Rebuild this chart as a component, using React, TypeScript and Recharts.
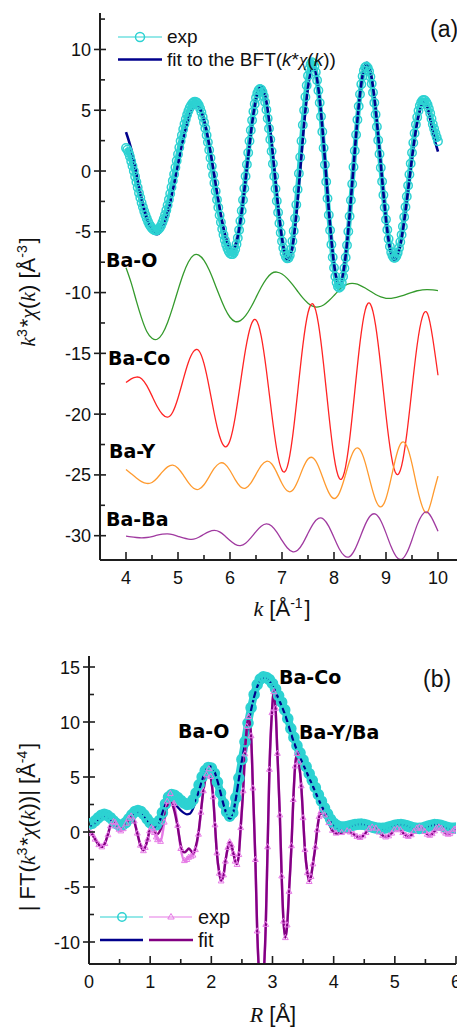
import React from 'react';
import { LineChart, Line, XAxis, YAxis } from 'recharts';

// ---------------- Panel (a): k^3 chi(k) ----------------
const K_GRID = [
  4.0, 4.1, 4.2, 4.3, 4.4, 4.5, 4.6, 4.7, 4.8, 4.9,
  5.0, 5.1, 5.2, 5.3, 5.4, 5.5, 5.6, 5.7, 5.8, 5.9,
  6.0, 6.1, 6.2, 6.3, 6.4, 6.5, 6.6, 6.7, 6.8, 6.9,
  7.0, 7.1, 7.2, 7.3, 7.4, 7.5, 7.6, 7.7, 7.8, 7.9,
  8.0, 8.1, 8.2, 8.3, 8.4, 8.5, 8.6, 8.7, 8.8, 8.9,
  9.0, 9.1, 9.2, 9.3, 9.4, 9.5, 9.6, 9.7, 9.8, 9.9,
  10.0,
];
const FIT_A = [
  3.2, 1.8, -0.2, -2.3, -3.9, -4.9, -5.2, -4.76, -3.5, -1.63,
  0.51, 2.59, 4.24, 5.19, 5.25, 4.19, 2.16, -0.41, -3.02, -5.13,
  -6.3, -6.17, -4.13, -0.69, 3.07, 5.93, 7.0, 5.73, 2.37, -1.89,
  -5.55, -7.3, -6.29, -2.46, 2.63, 6.86, 8.5, 6.8, 2.34, -3.17,
  -7.63, -9.33, -7.77, -3.64, 1.66, 6.32, 8.75, 8.21, 5.11, 0.54,
  -3.97, -6.84, -7.19, -5.52, -2.46, 1.06, 4.01, 5.51, 5.15, 3.2,
  1.6,
];
const BA_O = [
  -7.95, -9.2, -10.7, -12.1, -13.2, -13.75, -13.84, -13.39, -12.46, -11.2,
  -9.8, -8.49, -7.48, -6.93, -6.92, -7.35, -8.15, -9.19, -10.29, -11.29,
  -12.03, -12.38, -12.31, -11.9, -11.23, -10.4, -9.56, -8.87, -8.42, -8.31,
  -8.47, -8.83, -9.33, -9.89, -10.44, -10.87, -11.14, -11.18, -11.02, -10.68,
  -10.24, -9.8, -9.45, -9.27, -9.27, -9.4, -9.62, -9.89, -10.16, -10.36,
  -10.47, -10.47, -10.4, -10.28, -10.13, -9.98, -9.85, -9.77, -9.75, -9.78,
  -9.84,
];
const BA_CO = [
  -17.4, -17.1, -16.95, -17.08, -17.66, -18.5, -19.37, -20.01, -20.25, -19.82,
  -18.67, -17.16, -15.73, -14.84, -14.78, -15.85, -17.79, -20.01, -21.82, -22.67,
  -22.17, -20.24, -17.45, -14.66, -12.73, -12.25, -13.58, -16.41, -19.89, -22.93,
  -24.61, -24.36, -21.98, -18.25, -14.38, -11.66, -10.96, -12.55, -15.92, -19.99,
  -23.48, -25.27, -24.78, -22.1, -18.11, -14.12, -11.44, -10.95, -12.7, -16.11,
  -20.09, -23.37, -24.93, -24.26, -21.63, -17.9, -14.29, -12.0, -11.75, -13.8,
  -16.8,
];
const BA_Y = [
  -24.55, -24.9, -25.25, -25.55, -25.7, -25.62, -25.25, -24.75, -24.34, -24.2,
  -24.45, -25.0, -25.64, -26.1, -26.18, -25.81, -25.14, -24.45, -24.04, -24.1,
  -24.64, -25.39, -25.97, -26.08, -25.67, -24.95, -24.24, -23.88, -24.08, -24.81,
  -25.71, -26.31, -26.29, -25.55, -24.48, -23.69, -23.61, -24.29, -25.42, -26.46,
  -26.94, -26.52, -25.3, -23.86, -22.9, -22.92, -23.99, -25.62, -27.06, -27.63,
  -26.94, -25.25, -23.4, -22.34, -22.62, -24.09, -26.07, -27.63, -28.05, -26.7,
  -25.1,
];
const BA_BA = [
  -30.04, -30.1, -30.15, -30.18, -30.15, -30.08, -29.96, -29.88, -29.85, -29.92,
  -30.05, -30.19, -30.28, -30.29, -30.13, -29.88, -29.66, -29.57, -29.69, -30.01,
  -30.4, -30.71, -30.81, -30.62, -30.18, -29.66, -29.22, -29.03, -29.2, -29.71,
  -30.39, -30.99, -31.31, -31.2, -30.63, -29.8, -29.02, -28.57, -28.64, -29.23,
  -30.15, -31.07, -31.66, -31.72, -31.15, -30.15, -29.09, -28.36, -28.23, -28.77,
  -29.79, -30.92, -31.74, -31.94, -31.41, -30.33, -29.11, -28.26, -28.08, -28.7,
  -29.63,
];
const K_EXP = [
  4.0, 4.025, 4.05, 4.075, 4.1, 4.125, 4.15, 4.175, 4.2, 4.225,
  4.25, 4.275, 4.3, 4.325, 4.35, 4.375, 4.4, 4.425, 4.45, 4.475,
  4.5, 4.525, 4.55, 4.575, 4.6, 4.625, 4.65, 4.675, 4.7, 4.725,
  4.75, 4.775, 4.8, 4.825, 4.85, 4.875, 4.9, 4.925, 4.95, 4.975,
  5.0, 5.025, 5.05, 5.075, 5.1, 5.125, 5.15, 5.175, 5.2, 5.225,
  5.25, 5.275, 5.3, 5.325, 5.35, 5.375, 5.4, 5.425, 5.45, 5.475,
  5.5, 5.525, 5.55, 5.575, 5.6, 5.625, 5.65, 5.675, 5.7, 5.725,
  5.75, 5.775, 5.8, 5.825, 5.85, 5.875, 5.9, 5.925, 5.95, 5.975,
  6.0, 6.025, 6.05, 6.075, 6.1, 6.125, 6.15, 6.175, 6.2, 6.225,
  6.25, 6.275, 6.3, 6.325, 6.35, 6.375, 6.4, 6.425, 6.45, 6.475,
  6.5, 6.525, 6.55, 6.575, 6.6, 6.625, 6.65, 6.675, 6.7, 6.725,
  6.75, 6.775, 6.8, 6.825, 6.85, 6.875, 6.9, 6.925, 6.95, 6.975,
  7.0, 7.025, 7.05, 7.075, 7.1, 7.125, 7.15, 7.175, 7.2, 7.225,
  7.25, 7.275, 7.3, 7.325, 7.35, 7.375, 7.4, 7.425, 7.45, 7.475,
  7.5, 7.525, 7.55, 7.575, 7.6, 7.625, 7.65, 7.675, 7.7, 7.725,
  7.75, 7.775, 7.8, 7.825, 7.85, 7.875, 7.9, 7.925, 7.95, 7.975,
  8.0, 8.025, 8.05, 8.075, 8.1, 8.125, 8.15, 8.175, 8.2, 8.225,
  8.25, 8.275, 8.3, 8.325, 8.35, 8.375, 8.4, 8.425, 8.45, 8.475,
  8.5, 8.525, 8.55, 8.575, 8.6, 8.625, 8.65, 8.675, 8.7, 8.725,
  8.75, 8.775, 8.8, 8.825, 8.85, 8.875, 8.9, 8.925, 8.95, 8.975,
  9.0, 9.025, 9.05, 9.075, 9.1, 9.125, 9.15, 9.175, 9.2, 9.225,
  9.25, 9.275, 9.3, 9.325, 9.35, 9.375, 9.4, 9.425, 9.45, 9.475,
  9.5, 9.525, 9.55, 9.575, 9.6, 9.625, 9.65, 9.675, 9.7, 9.725,
  9.75, 9.775, 9.8, 9.825, 9.85, 9.875, 9.9, 9.925, 9.95, 9.975,
  10.0,
];
const EXP_A = [
  1.9, 1.75, 1.5, 1.2, 0.8, 0.42, 0.0, -0.45, -0.9, -1.35,
  -1.8, -2.2, -2.6, -2.97, -3.3, -3.62, -3.9, -4.17, -4.4, -4.57,
  -4.7, -4.81, -4.88, -4.9, -4.88, -4.8, -4.67, -4.49, -4.24, -3.95,
  -3.61, -3.23, -2.81, -2.35, -1.86, -1.34, -0.81, -0.26, 0.29, 0.85,
  1.39, 1.93, 2.46, 2.95, 3.43, 3.86, 4.26, 4.62, 4.93, 5.2,
  5.4, 5.56, 5.66, 5.7, 5.67, 5.58, 5.41, 5.15, 4.84, 4.45,
  4.01, 3.51, 2.95, 2.36, 1.73, 1.07, 0.4, -0.3, -0.99, -1.67,
  -2.36, -3.0, -3.64, -4.22, -4.76, -5.25, -5.68, -6.05, -6.36, -6.59,
  -6.76, -6.84, -6.84, -6.71, -6.44, -6.03, -5.5, -4.86, -4.11, -3.27,
  -2.38, -1.43, -0.44, 0.54, 1.51, 2.47, 3.35, 4.17, 4.89, 5.52,
  6.02, 6.4, 6.65, 6.75, 6.7, 6.51, 6.16, 5.67, 5.05, 4.33,
  3.5, 2.59, 1.62, 0.6, -0.43, -1.46, -2.46, -3.41, -4.3, -5.08,
  -5.77, -6.33, -6.76, -7.05, -7.19, -7.16, -6.92, -6.45, -5.78, -4.93,
  -3.91, -2.77, -1.51, -0.21, 1.14, 2.48, 3.78, 4.99, 6.09, 7.04,
  7.83, 8.41, 8.79, 8.95, 8.88, 8.61, 8.13, 7.47, 6.62, 5.61,
  4.48, 3.23, 1.89, 0.52, -0.89, -2.27, -3.62, -4.88, -6.05, -7.09,
  -7.96, -8.67, -9.18, -9.5, -9.6, -9.5, -9.19, -8.68, -7.99, -7.12,
  -6.11, -4.97, -3.73, -2.41, -1.06, 0.33, 1.67, 2.99, 4.21, 5.32,
  6.32, 7.14, 7.8, 8.26, 8.54, 8.6, 8.48, 8.2, 7.76, 7.17,
  6.46, 5.61, 4.66, 3.64, 2.54, 1.41, 0.27, -0.87, -1.97, -3.01,
  -3.98, -4.84, -5.59, -6.21, -6.68, -6.98, -7.14, -7.13, -6.99, -6.72,
  -6.34, -5.84, -5.25, -4.56, -3.79, -2.97, -2.1, -1.2, -0.29, 0.61,
  1.5, 2.33, 3.11, 3.82, 4.43, 4.95, 5.36, 5.64, 5.81, 5.85,
  5.8, 5.65, 5.45, 5.12, 4.75, 4.3, 3.85, 3.48, 3.1, 2.78,
  2.45,
];

// ---------------- Panel (b): FT ----------------
const R_MAG = [
  0.0, 0.05, 0.1, 0.15, 0.2, 0.25, 0.3, 0.35, 0.4, 0.45,
  0.5, 0.55, 0.6, 0.65, 0.7, 0.75, 0.8, 0.85, 0.9, 0.95,
  1.0, 1.05, 1.1, 1.15, 1.2, 1.25, 1.3, 1.35, 1.4, 1.45,
  1.5, 1.55, 1.6, 1.65, 1.7, 1.75, 1.8, 1.85, 1.9, 1.95,
  2.0, 2.05, 2.1, 2.15, 2.2, 2.25, 2.3, 2.35, 2.4, 2.45,
  2.5, 2.55, 2.6, 2.65, 2.7, 2.75, 2.8, 2.85, 2.9, 2.95,
  3.0, 3.05, 3.1, 3.15, 3.2, 3.25, 3.3, 3.35, 3.4, 3.45,
  3.5, 3.55, 3.6, 3.65, 3.7, 3.75, 3.8, 3.85, 3.9, 3.95,
  4.0, 4.05, 4.1, 4.15, 4.2, 4.25, 4.3, 4.35, 4.4, 4.45,
  4.5, 4.55, 4.6, 4.65, 4.7, 4.75, 4.8, 4.85, 4.9, 4.95,
  5.0, 5.05, 5.1, 5.15, 5.2, 5.25, 5.3, 5.35, 5.4, 5.45,
  5.5, 5.55, 5.6, 5.65, 5.7, 5.75, 5.8, 5.85, 5.9, 5.95,
  6.0,
];
const MAG_FIT = [
  0.45, 0.54, 0.76, 1.04, 1.26, 1.35, 1.27, 1.05, 0.77, 0.5,
  0.33, 0.32, 0.53, 0.9, 1.31, 1.63, 1.75, 1.64, 1.35, 0.97,
  0.61, 0.39, 0.4, 0.91, 1.75, 2.5, 2.8, 2.73, 2.53, 2.26,
  1.97, 1.74, 1.61, 1.67, 2.11, 2.87, 3.8, 4.73, 5.49, 5.93,
  5.96, 5.51, 4.66, 3.58, 2.49, 1.64, 1.19, 1.6, 3.0, 4.8,
  6.5, 8.0, 9.7, 11.1, 12.3, 13.2, 13.75, 14.0, 13.95, 13.7,
  13.3, 12.75, 12.1, 11.45, 10.75, 9.9, 9.0, 8.15, 7.45, 6.8,
  6.15, 5.55, 4.9, 4.3, 3.65, 3.0, 2.4, 1.85, 1.35, 0.9,
  0.55, 0.32, 0.18, 0.15, 0.21, 0.33, 0.49, 0.62, 0.69, 0.69,
  0.63, 0.53, 0.41, 0.29, 0.19, 0.13, 0.13, 0.18, 0.28, 0.41,
  0.53, 0.62, 0.65, 0.61, 0.52, 0.39, 0.25, 0.16, 0.12, 0.16,
  0.28, 0.43, 0.57, 0.64, 0.64, 0.56, 0.43, 0.29, 0.19, 0.15,
  0.18,
];
const MAG_EXP = [
  0.7, 0.79, 1.01, 1.29, 1.51, 1.6, 1.52, 1.3, 1.01, 0.76,
  0.61, 0.64, 0.85, 1.2, 1.57, 1.85, 1.95, 1.85, 1.57, 1.2,
  0.85, 0.64, 0.64, 1.04, 1.76, 2.55, 3.17, 3.4, 3.33, 3.13,
  2.87, 2.64, 2.51, 2.56, 2.92, 3.53, 4.28, 5.01, 5.58, 5.87,
  5.82, 5.34, 4.53, 3.55, 2.58, 1.83, 1.44, 1.75, 3.1, 4.9,
  6.6, 8.2, 9.9, 11.3, 12.5, 13.4, 13.9, 14.1, 14.05, 13.85,
  13.5, 13.0, 12.4, 11.8, 11.1, 10.3, 9.4, 8.6, 7.85, 7.2,
  6.55, 5.95, 5.3, 4.7, 4.05, 3.4, 2.8, 2.2, 1.65, 1.15,
  0.8, 0.6, 0.48, 0.45, 0.47, 0.53, 0.6, 0.67, 0.71, 0.72,
  0.68, 0.6, 0.5, 0.42, 0.36, 0.33, 0.33, 0.37, 0.44, 0.52,
  0.6, 0.66, 0.68, 0.64, 0.56, 0.47, 0.39, 0.34, 0.33, 0.37,
  0.45, 0.54, 0.62, 0.67, 0.66, 0.6, 0.51, 0.42, 0.36, 0.33,
  0.35,
];
const R_IM = [
  0.0, 0.05, 0.1, 0.16, 0.21, 0.26, 0.31, 0.35, 0.4, 0.43,
  0.46, 0.49, 0.52, 0.56, 0.61, 0.65, 0.69, 0.74, 0.79, 0.84,
  0.89, 0.92, 0.96, 0.99, 1.02, 1.05, 1.07, 1.1, 1.12, 1.17,
  1.23, 1.28, 1.33, 1.39, 1.45, 1.5, 1.56, 1.6, 1.63, 1.67,
  1.7, 1.74, 1.79, 1.83, 1.87, 1.92, 1.96, 1.99, 2.03, 2.06,
  2.09, 2.13, 2.16, 2.2, 2.23, 2.27, 2.3, 2.33, 2.36, 2.39,
  2.42, 2.45, 2.48, 2.52, 2.55, 2.58, 2.61, 2.65, 2.68, 2.72,
  2.75, 2.79, 2.82, 2.85, 2.89, 2.92, 2.95, 2.99, 3.02, 3.05,
  3.08, 3.12, 3.15, 3.18, 3.21, 3.24, 3.27, 3.31, 3.34, 3.37,
  3.4, 3.43, 3.47, 3.5, 3.53, 3.57, 3.6, 3.63, 3.66, 3.7,
  3.73, 3.76, 3.79, 3.85, 3.92, 3.98, 4.04, 4.13, 4.22, 4.27,
  4.33, 4.38, 4.43, 4.48, 4.53, 4.58, 4.63, 4.69, 4.74, 4.8,
  4.85, 4.9, 4.95, 4.99, 5.04, 5.09, 5.13, 5.18, 5.22, 5.27,
  5.31, 5.36, 5.4, 5.44, 5.49, 5.53, 5.57, 5.61, 5.65, 5.68,
  5.72, 5.76, 5.8, 5.83, 5.87, 5.9, 5.94, 5.97, 6.0,
];
const IM_FIT = [
  0.0, -0.2, -0.68, -1.15, -1.35, -1.01, -0.2, 0.61, 0.95, 0.83,
  0.55, 0.27, 0.15, 0.33, 0.78, 1.22, 1.4, 0.95, -0.13, -1.2,
  -1.65, -1.34, -0.6, 0.14, 0.45, 0.36, 0.13, -0.11, -0.2, 0.22,
  1.25, 2.28, 2.7, 2.04, 0.43, -1.19, -1.85, -1.68, -1.5, -1.72,
  -1.95, -1.44, -0.04, 1.88, 3.79, 5.19, 5.7, 5.02, 3.18, 0.65,
  -1.88, -3.72, -4.4, -3.9, -2.68, -1.45, -0.95, -1.23, -1.93, -2.62,
  -2.9, -2.01, 0.44, 3.78, 7.11, 9.56, 10.45, 8.71, 3.96, -2.53,
  -9.01, -13.76, -15.5, -13.61, -8.45, -1.4, 5.65, 10.81, 12.7, 11.21,
  7.13, 1.55, -4.03, -8.11, -9.6, -8.48, -5.43, -1.25, 2.93, 5.98,
  7.1, 6.33, 4.21, 1.33, -1.56, -3.68, -4.45, -4.04, -2.91, -1.38,
  0.16, 1.29, 1.7, 1.43, 0.78, 0.12, -0.15, -0.05, 0.05, -0.03,
  -0.23, -0.42, -0.5, -0.36, -0.03, 0.31, 0.45, 0.32, 0.0, -0.32,
  -0.45, -0.34, -0.08, 0.19, 0.3, 0.2, -0.05, -0.3, -0.4, -0.28,
  0.03, 0.33, 0.45, 0.34, 0.08, -0.19, -0.3, -0.19, 0.08, 0.34,
  0.45, 0.36, 0.13, -0.11, -0.2, -0.13, 0.05, 0.23, 0.3,
];
const IM_EXP = [
  0.05, -0.15, -0.65, -1.15, -1.35, -1.05, -0.25, 0.55, 0.95, 0.85,
  0.55, 0.25, 0.1, 0.3, 0.8, 1.25, 1.45, 1.0, -0.1, -1.2,
  -1.7, -1.4, -0.65, 0.1, 0.4, 0.25, -0.05, -0.45, -0.7, -0.85,
  0.9, 2.8, 3.5, 2.6, 0.6, -1.5, -2.6, -2.5, -2.3, -2.2,
  -2.1, -1.6, -0.2, 1.8, 3.75, 5.2, 5.75, 5.05, 3.2, 0.65,
  -1.9, -3.75, -4.45, -3.9, -2.65, -1.4, -0.9, -1.2, -1.95, -2.65,
  -2.95, -2.05, 0.4, 3.75, 7.1, 9.6, 10.5, 8.75, 4.0, -2.5,
  -9.0, -13.8, -15.5, -13.6, -8.4, -1.35, 5.7, 10.85, 12.75, 11.25,
  7.15, 1.55, -4.0, -8.1, -9.6, -8.45, -5.4, -1.25, 2.95, 6.0,
  7.15, 6.35, 4.2, 1.3, -1.6, -3.7, -4.5, -4.05, -2.9, -1.35,
  0.2, 1.4, 1.85, 1.55, 0.85, 0.15, -0.1, -0.05, 0.1, 0.0,
  -0.2, -0.4, -0.5, -0.35, -0.05, 0.3, 0.45, 0.35, 0.0, -0.3,
  -0.45, -0.35, -0.1, 0.2, 0.3, 0.2, -0.05, -0.3, -0.4, -0.25,
  0.05, 0.35, 0.45, 0.35, 0.05, -0.2, -0.3, -0.15, 0.1, 0.35,
  0.45, 0.35, 0.1, -0.1, -0.2, -0.15, 0.05, 0.25, 0.3,
];

// ticks
const A_X_TICKS = [4, 4.5, 5, 5.5, 6, 6.5, 7, 7.5, 8, 8.5, 9, 9.5, 10];
const A_Y_TICKS = [-30, -27.5, -25, -22.5, -20, -17.5, -15, -12.5, -10, -7.5, -5, -2.5, 0, 2.5, 5, 7.5, 10, 12.5];
const B_X_TICKS = [0, 0.5, 1, 1.5, 2, 2.5, 3, 3.5, 4, 4.5, 5, 5.5, 6];
const B_Y_TICKS = [-10, -7.5, -5, -2.5, 0, 2.5, 5, 7.5, 10, 12.5, 15];

// colours
const CYAN = '#2dd2d2';
const NAVY = '#00008c';
const GREEN = '#349a2c';
const RED = '#ff2424';
const ORANGE = '#ff9a2e';
const PURPLE_A = '#a03aa0';
const MAGENTA = '#e67ae6';
const PURPLE = '#820082';
const AXIS = '#1e1e1e';
const SANS = '"Liberation Sans", Arial, sans-serif';
const SERIF = '"Liberation Serif", "Times New Roman", serif';
const BOLD = '"DejaVu Sans", Verdana, sans-serif';

const zipA = (xs: number[], ys: number[]) => xs.map((x, i) => ({ x, y: ys[i] }));

type Side = 'bottom' | 'top' | 'left' | 'right';
function makeTick(side: Side, isMajor: (v: number) => boolean, showLabel: boolean) {
  return function Tick(props: any) {
    const { x, y, payload } = props;
    const v = payload.value as number;
    const maj = isMajor(v);
    const inL = maj ? 8 : 5;
    const outL = maj && side === 'left' ? 6 : 0;
    let line: any = null;
    let text: any = null;
    if (side === 'bottom') {
      line = <line x1={x} x2={x} y1={y} y2={y - inL} stroke={AXIS} strokeWidth={1.6} />;
      if (showLabel && maj)
        text = <text x={x} y={y + 24} textAnchor="middle" fontSize={18} fontFamily={SANS} fill="#111">{String(v)}</text>;
    } else if (side === 'top') {
      line = <line x1={x} x2={x} y1={y} y2={y + inL} stroke={AXIS} strokeWidth={1.6} />;
    } else if (side === 'left') {
      line = <line x1={x - outL} x2={x + (maj ? 6 : 5)} y1={y} y2={y} stroke={AXIS} strokeWidth={1.6} />;
      if (showLabel && maj)
        text = <text x={x - 9} y={y + 6.5} textAnchor="end" fontSize={18} fontFamily={SANS} fill="#111">{String(v)}</text>;
    } else {
      line = <line x1={x} x2={x - inL} y1={y} y2={y} stroke={AXIS} strokeWidth={1.6} />;
    }
    return <g>{line}{text}</g>;
  };
}
const isInt = (v: number) => Math.abs(v - Math.round(v)) < 1e-9;
const isFive = (v: number) => Math.abs(v / 5 - Math.round(v / 5)) < 1e-9;

const TriDot = (p: any) => {
  const { cx, cy, index } = p;
  if (cx == null || cy == null) return <g key={`t${index}`} />;
  return (
    <polygon key={`t${index}`} points={`${cx},${cy - 3.2} ${cx - 2.9},${cy + 2} ${cx + 2.9},${cy + 2}`}
      fill="none" stroke={MAGENTA} strokeWidth={1} />
  );
};

const axisLine = { stroke: AXIS, strokeWidth: 2 };

function PanelA() {
  const exp = zipA(K_EXP, EXP_A);
  const fit = zipA(K_GRID, FIT_A);
  const bo = zipA(K_GRID, BA_O);
  const bc = zipA(K_GRID, BA_CO);
  const by = zipA(K_GRID, BA_Y);
  const bb = zipA(K_GRID, BA_BA);
  return (
    <LineChart width={480} height={620} margin={{ top: 13, right: 16, bottom: 0, left: 0 }}>
      <XAxis dataKey="x" type="number" domain={[3.5, 10.5]} allowDataOverflow ticks={A_X_TICKS} interval={0}
        height={60} tickSize={0} tickMargin={0} tickLine={false} axisLine={axisLine}
        tick={makeTick('bottom', isInt, true)} />
      <XAxis xAxisId="top" orientation="top" dataKey="x" type="number" domain={[3.5, 10.5]} allowDataOverflow
        ticks={A_X_TICKS} interval={0} height={0} tickSize={0} tickMargin={0} tickLine={false} axisLine={axisLine}
        tick={makeTick('top', isInt, false)} />
      <YAxis type="number" domain={[-32, 13]} allowDataOverflow ticks={A_Y_TICKS} interval={0} width={100}
        tickSize={0} tickMargin={0} tickLine={false} axisLine={axisLine} tick={makeTick('left', isFive, true)} />
      <YAxis yAxisId="r" orientation="right" type="number" domain={[-32, 13]} allowDataOverflow ticks={A_Y_TICKS}
        interval={0} width={0} tickSize={0} tickMargin={0} tickLine={false} axisLine={axisLine}
        tick={makeTick('right', isFive, false)} />
      <Line data={exp} dataKey="y" type="natural" stroke={CYAN} strokeWidth={5}
        dot={{ r: 4.2, stroke: CYAN, strokeWidth: 1.5, fill: 'none' }} isAnimationActive={false} />
      <Line data={fit} dataKey="y" type="natural" stroke={NAVY} strokeWidth={2.6} dot={false} isAnimationActive={false} />
      <Line data={bo} dataKey="y" type="natural" stroke={GREEN} strokeWidth={1.3} dot={false} isAnimationActive={false} />
      <Line data={bc} dataKey="y" type="natural" stroke={RED} strokeWidth={1.3} dot={false} isAnimationActive={false} />
      <Line data={by} dataKey="y" type="natural" stroke={ORANGE} strokeWidth={1.3} dot={false} isAnimationActive={false} />
      <Line data={bb} dataKey="y" type="natural" stroke={PURPLE_A} strokeWidth={1.3} dot={false} isAnimationActive={false} />
    </LineChart>
  );
}

function PanelB() {
  const mExp = zipA(R_MAG, MAG_EXP);
  const mFit = zipA(R_MAG, MAG_FIT);
  const iExp = zipA(R_IM, IM_EXP);
  const iFit = zipA(R_IM, IM_FIT);
  return (
    <LineChart width={457} height={384} margin={{ top: 16, right: 1, bottom: 0, left: 0 }}>
      <XAxis dataKey="x" type="number" domain={[0, 6]} allowDataOverflow ticks={B_X_TICKS} interval={0}
        height={60} tickSize={0} tickMargin={0} tickLine={false} axisLine={axisLine}
        tick={makeTick('bottom', isInt, true)} />
      <XAxis xAxisId="top" orientation="top" dataKey="x" type="number" domain={[0, 6]} allowDataOverflow
        ticks={B_X_TICKS} interval={0} height={0} tickSize={0} tickMargin={0} tickLine={false} axisLine={axisLine}
        tick={makeTick('top', isInt, false)} />
      <YAxis type="number" domain={[-12, 16]} allowDataOverflow ticks={B_Y_TICKS} interval={0} width={89}
        tickSize={0} tickMargin={0} tickLine={false} axisLine={axisLine} tick={makeTick('left', isFive, true)} />
      <YAxis yAxisId="r" orientation="right" type="number" domain={[-12, 16]} allowDataOverflow ticks={B_Y_TICKS}
        interval={0} width={0} tickSize={0} tickMargin={0} tickLine={false} axisLine={axisLine}
        tick={makeTick('right', isFive, false)} />
      <Line data={mExp} dataKey="y" type="monotone" stroke={CYAN} strokeWidth={8}
        dot={{ r: 4.6, stroke: CYAN, strokeWidth: 2.4, fill: 'none' }} isAnimationActive={false} />
      <Line data={mFit} dataKey="y" type="monotone" stroke={NAVY} strokeWidth={2.2} dot={false} isAnimationActive={false} />
      <Line data={iExp} dataKey="y" type="monotone" stroke={MAGENTA} strokeWidth={2.5} dot={TriDot} isAnimationActive={false} />
      <Line data={iFit} dataKey="y" type="monotone" stroke={PURPLE} strokeWidth={2.4} dot={false} isAnimationActive={false} />
    </LineChart>
  );
}

const sup = (s: string, size = 14) => [
  <tspan key="a" dy={-8} fontSize={size}>{s}</tspan>,
  <tspan key="b" dy={8}>{'\u200A'}</tspan>,
];

function Overlay() {
  const lab = { fontFamily: BOLD, fontWeight: 700 as const, fontSize: 19, fill: '#000' };
  return (
    <svg width={457} height={1030} style={{ position: 'absolute', left: 0, top: 0, pointerEvents: 'none' }}>
      {/* panel a legend */}
      <line x1={118} x2={162} y1={37} y2={37} stroke={CYAN} strokeWidth={1.2} />
      <circle cx={140} cy={37} r={4.5} fill="none" stroke={CYAN} strokeWidth={1.5} />
      <text x={167} y={43} fontSize={19} fontFamily={SANS} fill="#111">exp</text>
      <line x1={118} x2={162} y1={59.5} y2={59.5} stroke={NAVY} strokeWidth={2.6} />
      <text x={167} y={66} fontSize={19} fontFamily={SANS} fill="#111">
        fit to the BFT(<tspan fontStyle="italic">k</tspan>*<tspan fontStyle="italic" fontFamily={SERIF}>χ</tspan>(<tspan fontStyle="italic">k</tspan>))
      </text>
      <text x={430} y={37} fontSize={23} fontFamily={SANS} fill="#111">(a)</text>

      {/* panel a shell labels */}
      <text x={106} y={267} {...lab}>Ba-O</text>
      <text x={108} y={365} {...lab}>Ba-Co</text>
      <text x={109} y={458} {...lab}>Ba-Y</text>
      <text x={106} y={526} {...lab}>Ba-Ba</text>

      {/* panel a axis titles */}
      <text x={282} y={616} textAnchor="middle" fontSize={22} fontFamily={SANS} fill="#111">
        <tspan fontStyle="italic" fontFamily={SERIF}>k</tspan> [Å{sup('-1')}]
      </text>
      <text x={35} y={292} textAnchor="middle" fontSize={22} fontFamily={SANS} fill="#111" transform="rotate(-90 35 292)">
        <tspan fontStyle="italic" fontFamily={SERIF}>k</tspan>{sup('3')}*<tspan fontStyle="italic" fontFamily={SERIF}>χ</tspan>(<tspan fontStyle="italic" fontFamily={SERIF}>k</tspan>) [Å{sup('-3')}]
      </text>

      {/* panel b labels */}
      <text x={423} y={687} fontSize={23} fontFamily={SANS} fill="#111">(b)</text>
      <text x={178} y={738} {...lab}>Ba-O</text>
      <text x={279} y={684} {...lab}>Ba-Co</text>
      <text x={299} y={739} {...lab}>Ba-Y/Ba</text>

      {/* panel b legend */}
      <line x1={100} x2={143} y1={917} y2={917} stroke={CYAN} strokeWidth={1.2} />
      <circle cx={122} cy={917} r={4.2} fill="none" stroke={CYAN} strokeWidth={1.5} />
      <line x1={149} x2={192} y1={917} y2={917} stroke={MAGENTA} strokeWidth={1.2} />
      <polygon points="171,913.5 167.8,919 174.2,919" fill="none" stroke={MAGENTA} strokeWidth={1} />
      <text x={198} y={924} fontSize={20} fontFamily={SANS} fill="#111">exp</text>
      <line x1={100} x2={143} y1={940} y2={940} stroke={NAVY} strokeWidth={2.4} />
      <line x1={149} x2={193} y1={940} y2={940} stroke={PURPLE} strokeWidth={2.4} />
      <text x={198} y={947} fontSize={20} fontFamily={SANS} fill="#111">fit</text>

      {/* panel b axis titles */}
      <text x={273} y={1022} textAnchor="middle" fontSize={22} fontFamily={SANS} fill="#111">
        <tspan fontStyle="italic" fontFamily={SERIF}>R</tspan> [Å]
      </text>
      <text x={35} y={827} textAnchor="middle" fontSize={22} fontFamily={SANS} fill="#111" transform="rotate(-90 35 827)">
        | FT(<tspan fontStyle="italic" fontFamily={SERIF}>k</tspan>{sup('3')}*<tspan fontStyle="italic" fontFamily={SERIF}>χ</tspan>(<tspan fontStyle="italic" fontFamily={SERIF}>k</tspan>))| [Å{sup('-4')}]
      </text>
    </svg>
  );
}

export default function App() {
  return (
    <div style={{ position: 'absolute', left: 0, top: 0, width: 457, height: 1030, overflow: 'hidden', background: '#fff' }}>
      <div style={{ position: 'absolute', left: 0, top: 0 }}>
        <PanelA />
      </div>
      <div style={{ position: 'absolute', left: 0, top: 640 }}>
        <PanelB />
      </div>
      <Overlay />
    </div>
  );
}
